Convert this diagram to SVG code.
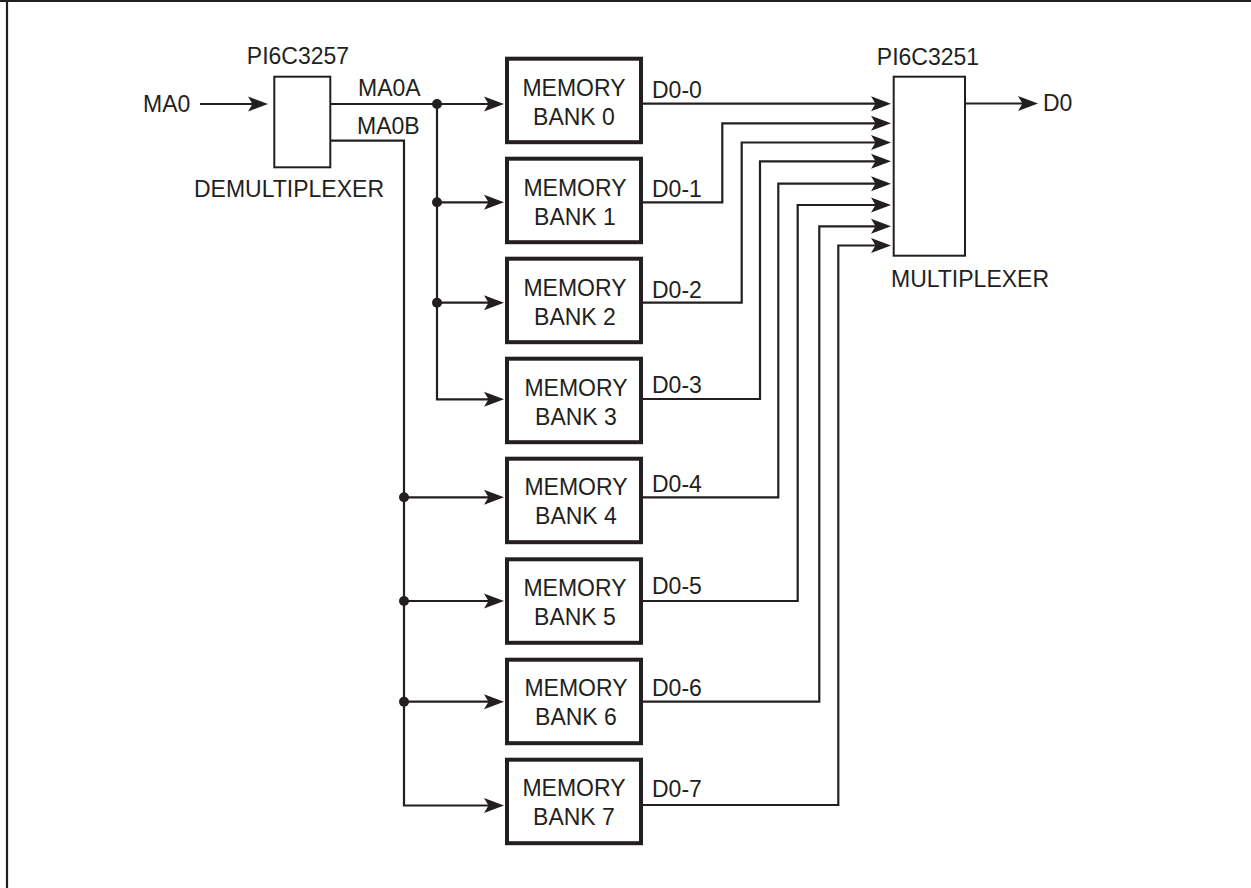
<svg xmlns="http://www.w3.org/2000/svg" width="1251" height="888" viewBox="0 0 1251 888">
<style>
  .t { font-family: "Liberation Sans", Arial, sans-serif; font-size: 23px; fill: #231f20; }
  .m { text-anchor: middle; }
  .bank { fill: #fff; stroke: #231f20; stroke-width: 4; }
  .chip { fill: #fff; stroke: #231f20; stroke-width: 2; }
  .w { fill: none; stroke: #231f20; stroke-width: 2.2; }
  .a { marker-end: url(#arr); }
  .dot { fill: #231f20; }
  .frame { stroke: #231f20; stroke-width: 2.2; }
</style>
<defs>
  <marker id="arr" markerUnits="userSpaceOnUse" viewBox="-12 -9 24 18" markerWidth="24" markerHeight="18" refX="0" refY="0" orient="auto">
    <path d="M10,0 L-10,-7.5 L-5.5,0 L-10,7.5 Z" fill="#231f20"/>
  </marker>
</defs>
<rect width="1251" height="888" fill="#fff"/>
<g id="frame">
  <line class="frame" x1="0" y1="1" x2="1251" y2="1"/>
  <line class="frame" x1="7" y1="0" x2="7" y2="888"/>
</g>
<g id="connectors">
  <path class="w a" d="M200,104 H258"/>
  <path class="w a" d="M331,104 H494"/>
  <path class="w a" d="M437,104 V399.3 H494"/>
  <path class="w a" d="M437,202.3 H494"/>
  <path class="w a" d="M437,302.7 H494"/>
  <path class="w a" d="M331,140.7 H404 V805.5 H494"/>
  <path class="w a" d="M404,497.3 H494"/>
  <path class="w a" d="M404,601 H494"/>
  <path class="w a" d="M404,701.7 H494"/>
  <circle class="dot" cx="437" cy="104" r="5"/>
  <circle class="dot" cx="437" cy="202.3" r="5"/>
  <circle class="dot" cx="437" cy="302.7" r="5"/>
  <circle class="dot" cx="404" cy="497.3" r="5"/>
  <circle class="dot" cx="404" cy="601" r="5"/>
  <circle class="dot" cx="404" cy="701.7" r="5"/>
  <path class="w a" d="M643,103.7 H881"/>
  <path class="w a" d="M643,202.3 H722.3 V123.3 H881"/>
  <path class="w a" d="M643,302.7 H741.7 V142.5 H881"/>
  <path class="w a" d="M643,399 H760 V161.3 H881"/>
  <path class="w a" d="M643,497.3 H778.3 V183.7 H881"/>
  <path class="w a" d="M643,601 H797.7 V205 H881"/>
  <path class="w a" d="M643,701.7 H819.3 V226.3 H881"/>
  <path class="w a" d="M643,805 H838.3 V245.5 H881"/>
  <path class="w a" d="M966,103.5 H1028"/>
  <text class="t" x="143" y="112">MA0</text>
  <text class="t" x="358" y="96">MA0A</text>
  <text class="t" x="357" y="134">MA0B</text>
  <text class="t" x="652" y="98.3">D0-0</text>
  <text class="t" x="652" y="196.7">D0-1</text>
  <text class="t" x="652" y="298.3">D0-2</text>
  <text class="t" x="652" y="392.7">D0-3</text>
  <text class="t" x="652" y="491.7">D0-4</text>
  <text class="t" x="652" y="594.3">D0-5</text>
  <text class="t" x="652" y="696">D0-6</text>
  <text class="t" x="652" y="796.7">D0-7</text>
  <text class="t" x="1043" y="111">D0</text>
</g>
<g id="demux">
  <rect class="chip" x="274.3" y="76.7" width="56" height="90.6"/>
  <text class="t m" x="298" y="64">PI6C3257</text>
  <text class="t m" x="289" y="197">DEMULTIPLEXER</text>
</g>
<g id="mux">
  <rect class="chip" x="893.7" y="76.7" width="71.3" height="179"/>
  <text class="t m" x="928" y="65">PI6C3251</text>
  <text class="t m" x="970" y="287">MULTIPLEXER</text>
</g>
<g id="bank0"><rect class="bank" x="507" y="58.7" width="134" height="83.5"/><text class="t m" x="574" y="95.5">MEMORY</text><text class="t m" x="574" y="124.5">BANK 0</text></g>
<g id="bank1"><rect class="bank" x="507" y="158.7" width="134" height="83.5"/><text class="t m" x="575" y="195.5">MEMORY</text><text class="t m" x="575" y="224.5">BANK 1</text></g>
<g id="bank2"><rect class="bank" x="507" y="258.7" width="134" height="83.5"/><text class="t m" x="575" y="295.5">MEMORY</text><text class="t m" x="575" y="324.5">BANK 2</text></g>
<g id="bank3"><rect class="bank" x="507" y="358.7" width="134" height="83.5"/><text class="t m" x="576" y="395.5">MEMORY</text><text class="t m" x="576" y="424.5">BANK 3</text></g>
<g id="bank4"><rect class="bank" x="507" y="458.7" width="134" height="83.5"/><text class="t m" x="576" y="495.3">MEMORY</text><text class="t m" x="576" y="524">BANK 4</text></g>
<g id="bank5"><rect class="bank" x="507" y="559.3" width="134" height="83.5"/><text class="t m" x="575" y="596">MEMORY</text><text class="t m" x="575" y="624.5">BANK 5</text></g>
<g id="bank6"><rect class="bank" x="507" y="659.7" width="134" height="83.5"/><text class="t m" x="576" y="696.3">MEMORY</text><text class="t m" x="576" y="725">BANK 6</text></g>
<g id="bank7"><rect class="bank" x="507" y="759.7" width="134" height="83.5"/><text class="t m" x="574" y="796.3">MEMORY</text><text class="t m" x="574" y="825">BANK 7</text></g>
</svg>
